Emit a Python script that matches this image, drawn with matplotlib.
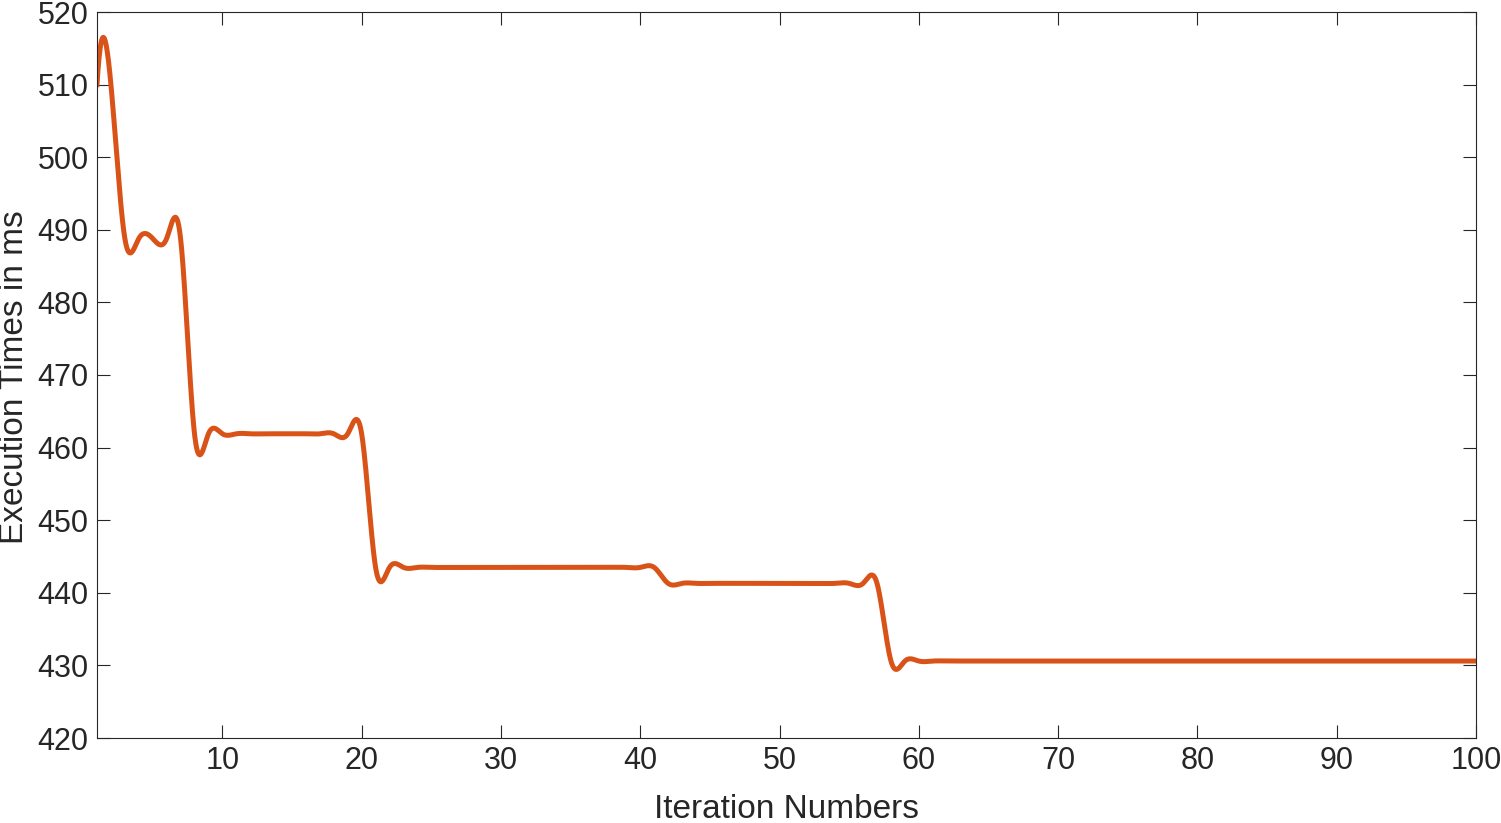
import numpy as np
import matplotlib
matplotlib.use('Agg')
import matplotlib.pyplot as plt

levels = [510.0, 488.8, 461.9, 443.5, 441.3, 430.6]
run_lengths = [2, 5, 13, 21, 16, 43]

iters = np.arange(1, 101)
times = np.repeat(levels, run_lengths)

x_ticks = [10, 20, 30, 40, 50, 60, 70, 80, 90, 100]
y_ticks = [420, 430, 440, 450, 460, 470, 480, 490, 500, 510, 520]


def spline_curve(x, y, n_per=40):
    # not-a-knot cubic spline on unit spacing (like MATLAB's spline)
    n = len(y)
    A = np.zeros((n, n))
    b = np.zeros(n)
    A[0, 0:3] = [1, -2, 1]
    A[-1, -3:] = [1, -2, 1]
    for i in range(1, n - 1):
        A[i, i - 1:i + 2] = [1, 4, 1]
        b[i] = 6 * (y[i + 1] - 2 * y[i] + y[i - 1])
    M = np.linalg.solve(A, b)
    xs, ys = [], []
    for j in range(n - 1):
        t = np.linspace(0, 1, n_per, endpoint=False)
        s = (M[j] * ((1 - t)**3 - (1 - t)) / 6 + M[j + 1] * (t**3 - t) / 6
             + y[j] * (1 - t) + y[j + 1] * t)
        xs.append(x[j] + t)
        ys.append(s)
    xs.append([x[-1]])
    ys.append([y[-1]])
    return np.concatenate(xs), np.concatenate(ys)


plt.rcParams['font.family'] = ['Liberation Sans', 'DejaVu Sans']
axcol = '#262626'

fig = plt.figure(figsize=(15.01, 8.23), dpi=100)
ax = fig.add_axes([97/1501, 1 - 738/823, 1379/1501, 726/823])

xs, ys = spline_curve(iters, times)
ax.plot(xs, ys, color='#D95319', linewidth=3.6)

ax.set_xlim(1, 100)
ax.set_ylim(420, 520)
ax.set_xticks(x_ticks)
ax.set_yticks(y_ticks)
ax.tick_params(direction='in', length=9.5, width=0.8, colors=axcol,
               labelsize=22, top=True, right=True, pad=6)
for sp in ax.spines.values():
    sp.set_color(axcol)
    sp.set_linewidth(0.8)

ax.set_xlabel('Iteration Numbers', fontsize=24, color=axcol)
ax.set_ylabel('Execution Times in ms', fontsize=24, color=axcol)
ax.xaxis.set_label_coords(0.5003, -0.099)
ax.yaxis.set_label_coords(-0.0595, 0.4966)
ax.xaxis.label.set_va('center')
ax.yaxis.label.set_va('center')

plt.savefig('out.png', dpi=100)
